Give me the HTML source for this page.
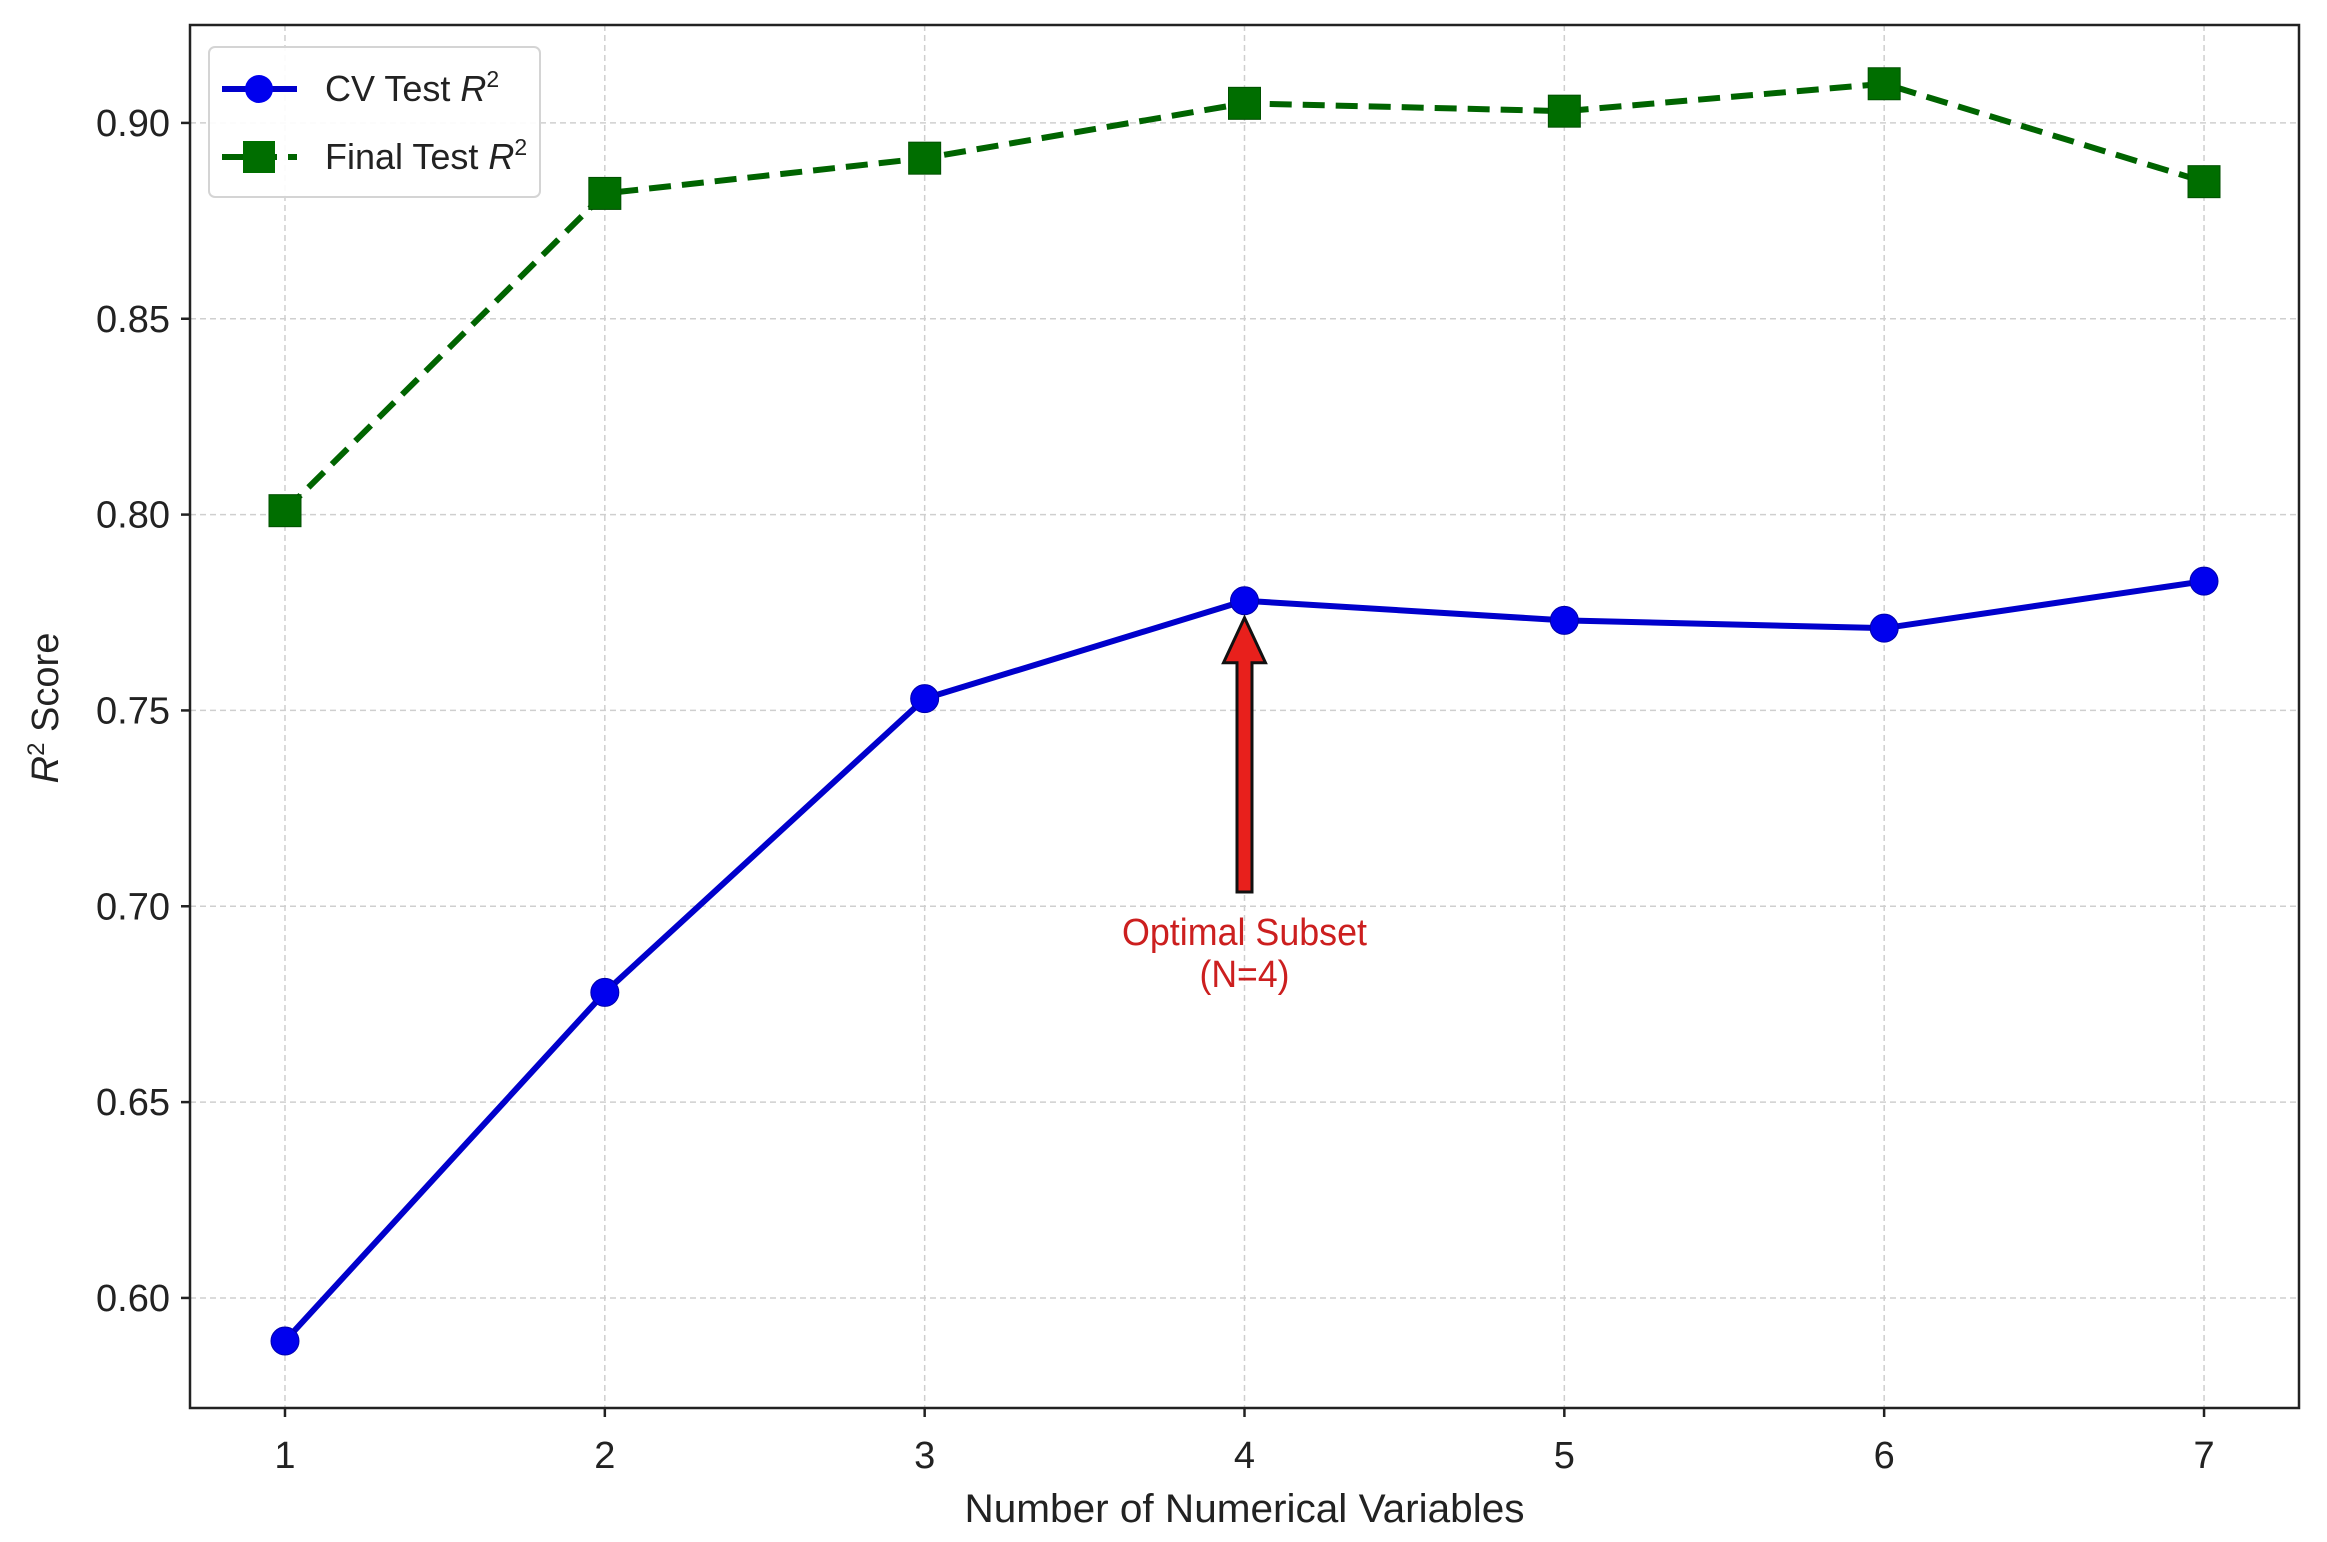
<!DOCTYPE html>
<html><head><meta charset="utf-8">
<style>
html,body{margin:0;padding:0;background:#fff;}
svg{display:block;font-family:"Liberation Sans",Arial,sans-serif;}
</style></head>
<body>
<svg id="chart" width="2327" height="1542" viewBox="0 0 2327 1542">
<rect width="2327" height="1542" fill="#fff"/>
<g id="grid"></g>
<g id="series"></g>
<g id="axes"></g>
</svg>
<script>
const categories = [1, 2, 3, 4, 5, 6, 7];
const cvTest = [0.589, 0.678, 0.753, 0.778, 0.773, 0.771, 0.783];
const finalTest = [0.801, 0.882, 0.891, 0.905, 0.903, 0.910, 0.885];
const yTicks = [0.60, 0.65, 0.70, 0.75, 0.80, 0.85, 0.90];
const yTickLabels = ["0.60", "0.65", "0.70", "0.75", "0.80", "0.85", "0.90"];
const annotationX = 4;
const annotationY = 0.778;

const L = 190, R = 2299, T = 25, B = 1408;
const xMin = 0.703, xMax = 7.297, yMin = 0.5719, yMax = 0.925;
function sx(v){ return L + (v - xMin) / (xMax - xMin) * (R - L); }
function sy(v){ return B - (v - yMin) / (yMax - yMin) * (B - T); }

const NS = "http://www.w3.org/2000/svg";
function mk(tag, attrs, parent){
  const e = document.createElementNS(NS, tag);
  for (const k in attrs) e.setAttribute(k, attrs[k]);
  parent.appendChild(e);
  return e;
}
const grid = document.getElementById('grid');
const series = document.getElementById('series');
const axes = document.getElementById('axes');

categories.forEach(c => {
  const g = mk('line', {x1: sx(c), x2: sx(c), y1: T, y2: B, stroke: '#cfcfcf', 'stroke-width': 1.5, 'stroke-dasharray': '6,4'}, grid);
  
  
});
yTicks.forEach(v => {
  const g = mk('line', {x1: L, x2: R, y1: sy(v), y2: sy(v), stroke: '#cfcfcf', 'stroke-width': 1.5, 'stroke-dasharray': '6,4'}, grid);
  
  
});

const fPts = categories.map((c, i) => sx(c) + ',' + sy(finalTest[i])).join(' ');
const fl = mk('polyline', {points: fPts, fill: 'none', stroke: '#006400', 'stroke-width': 6, 'stroke-dasharray': '22,11'}, series);


categories.forEach((c, i) => {
  const s = mk('rect', {x: sx(c) - 16, y: sy(finalTest[i]) - 16, width: 32, height: 32, fill: '#006e00', stroke: '#005000', 'stroke-width': 1}, series);
  
  
});

const cPts = categories.map((c, i) => sx(c) + ',' + sy(cvTest[i])).join(' ');
const cl = mk('polyline', {points: cPts, fill: 'none', stroke: '#0000cc', 'stroke-width': 6, 'stroke-linejoin': 'round'}, series);


categories.forEach((c, i) => {
  const p = mk('circle', {cx: sx(c), cy: sy(cvTest[i]), r: 14, fill: '#0000ee', stroke: '#0000aa', 'stroke-width': 1}, series);
  
  
});

const ax = sx(annotationX), tip = sy(annotationY) + 17, tail = 892;
const hw = 21, sw = 7.5, hl = 45;
const arrow = mk('polygon', {points: [
  [ax, tip], [ax + hw, tip + hl], [ax + sw, tip + hl], [ax + sw, tail],
  [ax - sw, tail], [ax - sw, tip + hl], [ax - hw, tip + hl]].map(p => p.join(',')).join(' '),
  fill: '#e8201c', stroke: '#111', 'stroke-width': 3, 'stroke-linejoin': 'miter'}, series);


const at1 = mk('text', {x: ax, y: 945, 'text-anchor': 'middle', 'font-size': 38, fill: '#cc1f1f', textLength: 245, lengthAdjust: 'spacingAndGlyphs'}, series);
at1.textContent = 'Optimal Subset';


const at2 = mk('text', {x: ax, y: 987, 'text-anchor': 'middle', 'font-size': 38, fill: '#cc1f1f', textLength: 90, lengthAdjust: 'spacingAndGlyphs'}, series);
at2.textContent = '(N=4)';



const frame = mk('rect', {x: L, y: T, width: R - L, height: B - T, fill: 'none', stroke: '#222', 'stroke-width': 2.5}, axes);



categories.forEach(c => {
  const t = mk('line', {x1: sx(c), x2: sx(c), y1: B, y2: B + 9, stroke: '#222', 'stroke-width': 2.5}, axes);
  
  
  const lb = mk('text', {x: sx(c), y: B + 60, 'text-anchor': 'middle', 'font-size': 38, fill: '#222'}, axes);
  lb.textContent = String(c);
  
  
});
yTicks.forEach((v, i) => {
  const t = mk('line', {x1: L - 9, x2: L, y1: sy(v), y2: sy(v), stroke: '#222', 'stroke-width': 2.5}, axes);
  
  
  const lb = mk('text', {x: L - 20, y: sy(v) + 13, 'text-anchor': 'end', 'font-size': 38, fill: '#222', textLength: 74, lengthAdjust: 'spacingAndGlyphs'}, axes);
  lb.textContent = yTickLabels[i];
  
  
});

const xt = mk('text', {x: (L + R) / 2, y: 1522, 'text-anchor': 'middle', 'font-size': 40, fill: '#222', textLength: 560, lengthAdjust: 'spacingAndGlyphs'}, axes);
xt.textContent = 'Number of Numerical Variables';



const yt = mk('text', {x: 0, y: 0, 'text-anchor': 'middle', 'font-size': 38, fill: '#222', transform: 'translate(58,708) rotate(-90)'}, axes);
yt.innerHTML = '<tspan font-style="italic">R</tspan><tspan dy="-14" font-size="24">2</tspan><tspan dy="14"> Score</tspan>';



const lg = mk('g', {}, axes);


mk('rect', {x: 209, y: 47, width: 331, height: 150, rx: 6, fill: '#fff', 'fill-opacity': 0.9, stroke: '#d4d4d4', 'stroke-width': 2}, lg);
const e1 = mk('g', {}, lg);


mk('line', {x1: 222, x2: 297, y1: 89, y2: 89, stroke: '#0000cc', 'stroke-width': 6}, e1);
mk('circle', {cx: 259, cy: 89, r: 14, fill: '#0000ee'}, e1);
const t1 = mk('text', {x: 325, y: 101, 'font-size': 36, fill: '#222'}, e1);
t1.innerHTML = 'CV Test <tspan font-style="italic">R</tspan><tspan dy="-14" font-size="23">2</tspan>';
const e2 = mk('g', {}, lg);


mk('line', {x1: 222, x2: 297, y1: 157, y2: 157, stroke: '#006400', 'stroke-width': 6, 'stroke-dasharray': '22,11'}, e2);
mk('rect', {x: 243, y: 141, width: 32, height: 32, fill: '#006e00'}, e2);
const t2 = mk('text', {x: 325, y: 169, 'font-size': 36, fill: '#222'}, e2);
t2.innerHTML = 'Final Test <tspan font-style="italic">R</tspan><tspan dy="-14" font-size="23">2</tspan>';
</script>
</body></html>
